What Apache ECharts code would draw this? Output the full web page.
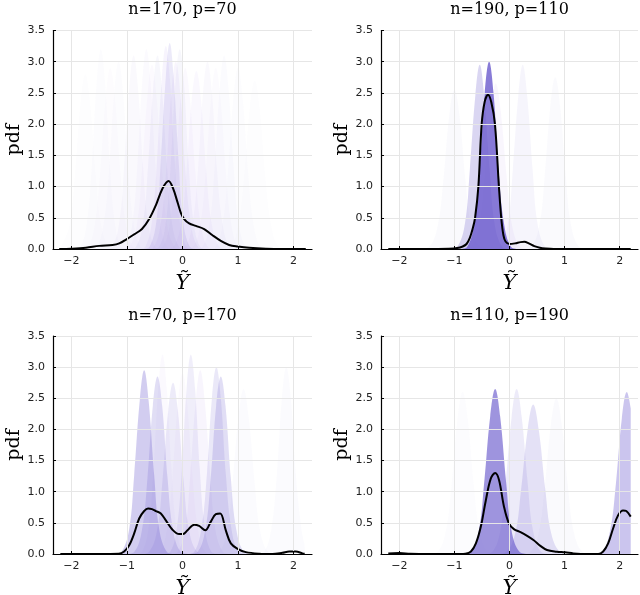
<!DOCTYPE html>
<html><head><meta charset="utf-8">
<script src="https://cdn.jsdelivr.net/npm/echarts@6/dist/echarts.min.js"></script>
<style>html,body{margin:0;padding:0;background:#fff}#c{width:640px;height:595px}</style>
</head><body><div id="c"></div>
<script>
// ---------- data ----------
const panelTitles = ['n=170, p=70', 'n=190, p=110', 'n=70, p=170', 'n=110, p=190'];
const xTickValues = [-2, -1, 0, 1, 2];
const yTickValues = [0, 0.5, 1, 1.5, 2, 2.5, 3, 3.5];

// black (aggregate) density curves
const meanTL = [[-2.22,0],[-2.0,0.005],[-1.74,0.02],[-1.5,0.05],[-1.26,0.065],[-1.14,0.09],[-1.01,0.155],[-0.87,0.235],[-0.73,0.32],[-0.6,0.48],[-0.48,0.70],[-0.36,0.97],[-0.25,1.09],[-0.17,0.97],[-0.09,0.75],[-0.03,0.58],[0.03,0.48],[0.12,0.41],[0.24,0.37],[0.39,0.32],[0.54,0.22],[0.69,0.13],[0.84,0.065],[1.0,0.04],[1.2,0.02],[1.5,0.005],[1.8,0.0],[2.22,0]];
const meanTR = [[-2.2,0],[-1.5,0],[-1.1,0.005],[-0.95,0.015],[-0.85,0.04],[-0.78,0.08],[-0.72,0.18],[-0.67,0.32],[-0.625,0.5],[-0.565,1.0],[-0.505,2.0],[-0.45,2.36],[-0.39,2.47],[-0.33,2.35],[-0.264,2.0],[-0.192,1.0],[-0.15,0.5],[-0.11,0.22],[-0.072,0.12],[0,0.08],[0.1,0.09],[0.2,0.11],[0.27,0.115],[0.35,0.09],[0.45,0.045],[0.55,0.02],[0.65,0.008],[0.8,0],[2.2,0]];
const meanBL = [[-2.2,0],[-1.5,0],[-1.15,0.003],[-1.05,0.04],[-0.96,0.14],[-0.87,0.33],[-0.78,0.57],[-0.69,0.69],[-0.62,0.73],[-0.55,0.72],[-0.48,0.69],[-0.39,0.65],[-0.3,0.54],[-0.18,0.39],[-0.06,0.32],[0.01,0.32],[0.09,0.38],[0.21,0.47],[0.3,0.45],[0.41,0.38],[0.51,0.52],[0.6,0.64],[0.68,0.65],[0.78,0.38],[0.87,0.17],[1.0,0.08],[1.14,0.03],[1.38,0.005],[1.62,0],[1.8,0.02],[1.92,0.04],[2.04,0.04],[2.16,0.01],[2.2,0.005]];
const meanBR = [[-2.2,0.01],[-2.0,0.015],[-1.8,0.005],[-1.5,0],[-0.9,0],[-0.8,0.005],[-0.7,0.04],[-0.61,0.17],[-0.52,0.44],[-0.43,0.86],[-0.34,1.21],[-0.26,1.3],[-0.19,1.19],[-0.1,0.76],[-0.01,0.49],[0.08,0.40],[0.2,0.35],[0.32,0.29],[0.44,0.22],[0.56,0.13],[0.68,0.064],[0.86,0.037],[1.01,0.027],[1.16,0.01],[1.4,0],[1.61,0],[1.7,0.04],[1.79,0.17],[1.88,0.41],[1.97,0.62],[2.06,0.70],[2.12,0.69],[2.2,0.6]];

// individual densities (faint purple fills)
const bumpsTL = [
 [[-2.2,0.01],[-2.035,0.38],[-1.935,1.2],[-1.835,2.34],[-1.75,2.8],[-1.665,2.34],[-1.565,1.2],[-1.465,0.38],[-1.32,0.03],[-1.18,0]],
 [[-1.97,0],[-1.84,0.035],[-1.72,0.43],[-1.63,1.38],[-1.545,2.67],[-1.47,3.2],[-1.395,2.67],[-1.31,1.38],[-1.22,0.43],[-1.10,0.035],[-0.97,0]],
 [[-1.68,0],[-1.55,0.033],[-1.42,0.41],[-1.32,1.29],[-1.23,2.5],[-1.15,3.0],[-1.07,2.5],[-0.98,1.29],[-0.88,0.41],[-0.75,0.033],[-0.62,0]],
 [[-1.40,0],[-1.27,0.034],[-1.14,0.42],[-1.05,1.33],[-0.957,2.59],[-0.88,3.1],[-0.803,2.59],[-0.71,1.33],[-0.62,0.42],[-0.49,0.034],[-0.36,0]],
 [[-1.15,0],[-1.02,0.035],[-0.90,0.43],[-0.81,1.38],[-0.725,2.67],[-0.65,3.2],[-0.575,2.67],[-0.49,1.38],[-0.40,0.43],[-0.28,0.035],[-0.15,0]],
 [[-0.97,0],[-0.84,0.034],[-0.71,0.42],[-0.62,1.33],[-0.527,2.59],[-0.45,3.1],[-0.373,2.59],[-0.28,1.33],[-0.19,0.42],[-0.06,0.034],[0.07,0]],
 [[-0.79,0],[-0.67,0.036],[-0.55,0.44],[-0.46,1.40],[-0.374,2.71],[-0.3,3.25],[-0.226,2.71],[-0.14,1.40],[-0.05,0.44],[0.07,0.036],[0.19,0]],
 [[-0.71,0],[-0.59,0.04],[-0.47,0.45],[-0.39,1.42],[-0.30,2.76],[-0.23,3.3],[-0.16,2.76],[-0.07,1.42],[0.01,0.45],[0.13,0.04],[0.25,0]],
 [[-0.65,0],[-0.52,0.033],[-0.39,0.41],[-0.29,1.29],[-0.20,2.5],[-0.12,3.0],[-0.04,2.5],[0.05,1.29],[0.15,0.41],[0.28,0.033],[0.41,0]],
 [[-0.50,0],[-0.36,0.032],[-0.23,0.39],[-0.13,1.25],[-0.033,2.42],[0.05,2.9],[0.133,2.42],[0.23,1.25],[0.33,0.39],[0.46,0.032],[0.60,0]],
 [[-0.31,0],[-0.17,0.031],[-0.03,0.385],[0.07,1.23],[0.166,2.38],[0.25,2.85],[0.334,2.38],[0.43,1.23],[0.53,0.385],[0.67,0.031],[0.81,0]],
 [[-0.08,0],[0.05,0.033],[0.18,0.41],[0.28,1.29],[0.37,2.5],[0.45,3.0],[0.53,2.5],[0.62,1.29],[0.72,0.41],[0.85,0.033],[0.98,0]],
 [[0.23,0],[0.36,0.034],[0.49,0.42],[0.58,1.33],[0.673,2.59],[0.75,3.1],[0.827,2.59],[0.92,1.33],[1.01,0.42],[1.14,0.034],[1.27,0]],
 [[0.45,0],[0.59,0.032],[0.72,0.39],[0.82,1.25],[0.917,2.42],[1.0,2.9],[1.083,2.42],[1.18,1.25],[1.28,0.39],[1.41,0.032],[1.55,0]],
 [[0.71,0],[0.86,0.03],[1.0,0.365],[1.11,1.16],[1.211,2.25],[1.3,2.7],[1.389,2.25],[1.49,1.16],[1.6,0.365],[1.74,0.03],[1.89,0]],
 [[-1.85,0],[-1.71,0.032],[-1.58,0.39],[-1.48,1.25],[-1.383,2.42],[-1.3,2.9],[-1.217,2.42],[-1.12,1.25],[-1.02,0.39],[-0.89,0.032],[-0.75,0]],
 [[-1.09,0],[-0.96,0.032],[-0.82,0.40],[-0.73,1.27],[-0.63,2.46],[-0.55,2.95],[-0.47,2.46],[-0.37,1.27],[-0.28,0.40],[-0.14,0.032],[-0.01,0]],
 [[-0.55,0],[-0.42,0.035],[-0.30,0.43],[-0.21,1.38],[-0.125,2.67],[-0.05,3.2],[0.025,2.67],[0.11,1.38],[0.20,0.43],[0.32,0.035],[0.45,0]],
 [[0.05,0],[0.19,0.032],[0.32,0.39],[0.42,1.25],[0.517,2.42],[0.6,2.9],[0.683,2.42],[0.78,1.25],[0.88,0.39],[1.01,0.032],[1.15,0]]
];
const bumpsTR = [
 [[-1.63,0],[-1.47,0.028],[-1.31,0.34],[-1.2,1.1],[-1.094,2.13],[-1.0,2.55],[-0.906,2.13],[-0.8,1.1],[-0.69,0.34],[-0.53,0.028],[-0.37,0]],
 [[0.25,0],[0.39,0.03],[0.54,0.37],[0.64,1.18],[0.743,2.3],[0.83,2.75],[0.917,2.3],[1.02,1.18],[1.12,0.37],[1.27,0.03],[1.41,0]],
 [[-0.30,0],[-0.17,0.032],[-0.03,0.40],[0.06,1.27],[0.16,2.46],[0.24,2.95],[0.32,2.46],[0.42,1.27],[0.51,0.40],[0.65,0.032],[0.78,0]],
 [[-0.85,0],[-0.70,0.029],[-0.55,0.36],[-0.45,1.14],[-0.34,2.21],[-0.25,2.65],[-0.16,2.21],[-0.05,1.14],[0.05,0.36],[0.2,0.029],[0.35,0]],
 [[-1.08,0],[-0.95,0.032],[-0.81,0.40],[-0.72,1.27],[-0.62,2.46],[-0.54,2.95],[-0.46,2.46],[-0.36,1.27],[-0.27,0.40],[-0.13,0.032],[0.0,0]],
 [[-0.90,0],[-0.77,0.033],[-0.64,0.41],[-0.54,1.29],[-0.45,2.5],[-0.37,3.0],[-0.29,2.5],[-0.20,1.29],[-0.10,0.41],[0.03,0.033],[0.16,0]]
];
const bumpsBL = [
 [[1.34,0],[1.47,0.033],[1.6,0.41],[1.7,1.29],[1.79,2.5],[1.87,3.0],[1.95,2.5],[2.04,1.29],[2.14,0.41],[2.2,0.14]],
 [[0.5,0],[0.65,0.029],[0.8,0.36],[0.9,1.14],[1.01,2.21],[1.1,2.65],[1.19,2.21],[1.3,1.14],[1.4,0.36],[1.55,0.029],[1.7,0]],
 [[-0.55,0],[-0.41,0.032],[-0.28,0.39],[-0.18,1.25],[-0.083,2.42],[0.0,2.9],[0.083,2.42],[0.18,1.25],[0.28,0.39],[0.41,0.032],[0.55,0]],
 [[-0.86,0],[-0.73,0.035],[-0.61,0.43],[-0.52,1.38],[-0.435,2.67],[-0.36,3.2],[-0.285,2.67],[-0.2,1.38],[-0.11,0.43],[0.01,0.035],[0.14,0]],
 [[-0.22,0],[-0.09,0.032],[0.05,0.40],[0.14,1.27],[0.24,2.46],[0.32,2.95],[0.40,2.46],[0.50,1.27],[0.59,0.40],[0.73,0.032],[0.86,0]],
 [[-0.35,0],[-0.22,0.035],[-0.10,0.43],[-0.01,1.38],[0.075,2.67],[0.15,3.2],[0.225,2.67],[0.31,1.38],[0.40,0.43],[0.52,0.035],[0.65,0]],
 [[-0.75,0],[-0.61,0.03],[-0.46,0.37],[-0.36,1.18],[-0.257,2.3],[-0.17,2.75],[-0.083,2.3],[0.02,1.18],[0.12,0.37],[0.27,0.03],[0.41,0]],
 [[0.08,0],[0.21,0.033],[0.34,0.41],[0.44,1.29],[0.53,2.5],[0.61,3.0],[0.69,2.5],[0.78,1.29],[0.88,0.41],[1.01,0.033],[1.14,0]],
 [[-1.01,0],[-0.87,0.031],[-0.73,0.385],[-0.63,1.23],[-0.534,2.38],[-0.45,2.85],[-0.366,2.38],[-0.27,1.23],[-0.17,0.385],[-0.03,0.031],[0.11,0]],
 [[0.13,0],[0.27,0.031],[0.41,0.385],[0.51,1.23],[0.606,2.38],[0.69,2.85],[0.774,2.38],[0.87,1.23],[0.97,0.385],[1.11,0.031],[1.25,0]],
 [[-1.23,0],[-1.10,0.032],[-0.96,0.40],[-0.87,1.27],[-0.77,2.46],[-0.69,2.95],[-0.61,2.46],[-0.51,1.27],[-0.42,0.40],[-0.28,0.032],[-0.15,0]]
];
const bumpsBR = [
 [[-1.46,0],[-1.31,0.029],[-1.16,0.35],[-1.05,1.12],[-0.942,2.17],[-0.85,2.6],[-0.758,2.17],[-0.65,1.12],[-0.54,0.35],[-0.39,0.029],[-0.24,0]],
 [[0.21,0],[0.37,0.028],[0.53,0.34],[0.64,1.08],[0.754,2.09],[0.85,2.5],[0.946,2.09],[1.06,1.08],[1.17,0.34],[1.33,0.028],[1.49,0]],
 [[-0.47,0],[-0.32,0.029],[-0.17,0.36],[-0.07,1.14],[0.04,2.21],[0.13,2.65],[0.22,2.21],[0.33,1.14],[0.43,0.36],[0.58,0.029],[0.73,0]],
 [[-0.23,0],[-0.07,0.026],[0.10,0.32],[0.21,1.03],[0.33,2.0],[0.43,2.4],[0.53,2.0],[0.65,1.03],[0.76,0.32],[0.93,0.026],[1.09,0]],
 [[1.52,0],[1.67,0.029],[1.82,0.35],[1.93,1.12],[2.038,2.17],[2.13,2.6],[2.2,2.34]],
 [[-0.86,0],[-0.71,0.029],[-0.56,0.36],[-0.46,1.14],[-0.35,2.21],[-0.26,2.65],[-0.17,2.21],[-0.06,1.14],[0.04,0.36],[0.19,0.029],[0.34,0]]
];

// ---------- styles ----------
const alphaTL = [0.012,0.02,0.02,0.035,0.045,0.05,0.09,0.13,0.08,0.05,0.06,0.035,0.025,0.018,0.013,0.015,0.04,0.05,0.03];
const hueTL   = ['s','s','s','s','v','s','v','s','v','v','v','s','s','s','s','s','v','s','v'];
const alphaTR = [0.03,0.03,0.06,0.07,0.25,0.8];
const hueTR   = ['s','s','s','v','s','s'];
const alphaBL = [0.025,0.025,0.04,0.05,0.08,0.1,0.12,0.14,0.2,0.2,0.3];
const hueBL   = ['s','s','v','v','v','s','s','s','s','s','s'];
const alphaBR = [0.02,0.03,0.12,0.18,0.35,0.65];
const hueBR   = ['s','s','s','s','s','s'];
const HUES = { s: [106,90,205], v: [170,130,230] };

const grids = [
  { left: 53,  top: 30.5, width: 259, height: 218.5, outerBoundsMode: 'none', containLabel: false },
  { left: 381, top: 30.5, width: 257, height: 218.5, outerBoundsMode: 'none', containLabel: false },
  { left: 53,  top: 336,  width: 259, height: 218, outerBoundsMode: 'none', containLabel: false },
  { left: 381, top: 336,  width: 257, height: 218, outerBoundsMode: 'none', containLabel: false }
];
const titleTops = [2, 2, 308, 308];

const panels = [
  { mean: meanTL, bumps: bumpsTL, alpha: alphaTL, hue: hueTL },
  { mean: meanTR, bumps: bumpsTR, alpha: alphaTR, hue: hueTR },
  { mean: meanBL, bumps: bumpsBL, alpha: alphaBL, hue: hueBL },
  { mean: meanBR, bumps: bumpsBR, alpha: alphaBR, hue: hueBR }
];

const SERIF = '"DejaVu Serif", "Liberation Serif", serif';
const SANS = '"DejaVu Sans", sans-serif';
const fmtX = v => (v < 0 ? '\u2212' + Math.abs(v) : String(v));
const fmtY = v => Number(v).toFixed(1);

const xAxes = [], yAxes = [], series = [], titles = [];
panels.forEach((p, i) => {
  const g = grids[i];
  titles.push({
    text: panelTitles[i], left: g.left + g.width / 2, top: titleTops[i], textAlign: 'center', padding: 0,
    textStyle: { fontFamily: SERIF, fontSize: 16, fontWeight: 'normal', color: '#000' }
  });
  xAxes.push({
    type: 'value', gridIndex: i, min: -2.332, max: 2.332, z: 10,
    name: '\u1EF8', nameLocation: 'middle', nameGap: 24,
    nameTextStyle: { fontFamily: SERIF, fontStyle: 'italic', fontSize: 21, color: '#000' },
    axisLine: { show: true, onZero: false, lineStyle: { color: '#000', width: 1.2 } },
    axisTick: { show: true, inside: true, length: 3, customValues: xTickValues, lineStyle: { color: '#000' } },
    axisLabel: { customValues: xTickValues, formatter: fmtX, fontFamily: SANS, fontSize: 11, color: '#222', margin: 7 },
    splitLine: { show: true, lineStyle: { color: '#e6e6e6', width: 1 } }
  });
  yAxes.push({
    type: 'value', gridIndex: i, min: 0, max: 3.5, interval: 0.5, z: 10,
    name: 'pdf', nameLocation: 'middle', nameGap: 27, nameRotate: 90,
    nameTextStyle: { fontFamily: SERIF, fontSize: 19, color: '#000' },
    axisLine: { show: true, onZero: false, lineStyle: { color: '#000', width: 1.2 } },
    axisTick: { show: true, inside: true, length: 3, lineStyle: { color: '#000' } },
    axisLabel: { formatter: fmtY, fontFamily: SANS, fontSize: 11, color: '#222', margin: 8 },
    splitLine: { show: true, lineStyle: { color: '#e6e6e6', width: 1 } }
  });
  p.bumps.forEach((b, j) => {
    const c = HUES[p.hue[j]];
    series.push({
      type: 'line', xAxisIndex: i, yAxisIndex: i, data: b, smooth: 0.4, symbol: 'none', silent: true,
      lineStyle: { width: 0, opacity: 0 },
      areaStyle: { color: `rgba(${c[0]},${c[1]},${c[2]},${p.alpha[j]})`, opacity: 1 },
      z: 2
    });
  });
  series.push({
    type: 'line', xAxisIndex: i, yAxisIndex: i, data: p.mean, smooth: 0.35, symbol: 'none', silent: true,
    lineStyle: { color: '#000', width: 2 }, z: 5
  });
});

const chart = echarts.init(document.getElementById('c'), null, { renderer: 'canvas' });
chart.setOption({
  animation: false,
  backgroundColor: '#fff',
  title: titles,
  grid: grids,
  xAxis: xAxes,
  yAxis: yAxes,
  series: series
});
</script></body></html>
